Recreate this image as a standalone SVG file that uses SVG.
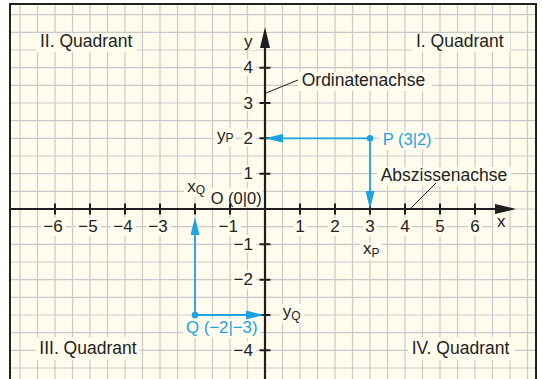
<svg xmlns="http://www.w3.org/2000/svg" width="543" height="379" viewBox="0 0 543 379">
<style>
.t{font-family:"Liberation Sans",Arial,Helvetica,sans-serif;fill:#222}
.q{font-size:17.5px}
.n{font-size:17px}
.sub{font-size:12px}
.b{fill:#1ba3e3}
.bg{fill:#fffcee}
.grid{stroke:#c9c9c9;stroke-width:1.2;fill:none}
.axis{stroke:#1e1e1e;stroke-width:2.2;fill:none}
.tick{stroke:#1e1e1e;stroke-width:2;fill:none}
.lead{stroke:#1e1e1e;stroke-width:1;fill:none}
.bl{stroke:#1ba3e3;stroke-width:1.8;fill:none}
</style>
<defs>
<marker id="ah" markerUnits="userSpaceOnUse" viewBox="0 0 21 10" markerWidth="21" markerHeight="10" refX="5" refY="5" orient="auto"><path d="M0,0L21,5L0,10z" fill="#1e1e1e"/></marker>
<marker id="bh" markerUnits="userSpaceOnUse" viewBox="0 0 18 9" markerWidth="18" markerHeight="9" refX="8" refY="4.5" orient="auto"><path d="M0,0L18,4.5L0,9z" fill="#1ba3e3"/></marker>
</defs>
<rect x="10" y="4" width="526" height="390" fill="#fffcee" stroke="#222" stroke-width="2"/>
<g id="grid">
<path class="grid" d="M20 5V379M37.5 5V379M55 5V379M72.5 5V379M90 5V379M107.5 5V379M125 5V379M142.5 5V379M160 5V379M177.5 5V379M195 5V379M212.5 5V379M230 5V379M247.5 5V379M265 5V379M282.5 5V379M300 5V379M317.5 5V379M335 5V379M352.5 5V379M370 5V379M387.5 5V379M405 5V379M422.5 5V379M440 5V379M457.5 5V379M475 5V379M492.5 5V379M510 5V379M527.5 5V379"/>
<path class="grid" d="M11 14.67H535M11 32.33H535M11 50H535M11 67.67H535M11 85.33H535M11 103H535M11 120.67H535M11 138.33H535M11 156H535M11 173.67H535M11 191.33H535M11 209H535M11 226.67H535M11 244.33H535M11 262H535M11 279.67H535M11 297.33H535M11 315H535M11 332.67H535M11 350.33H535M11 368H535"/>
</g>
<g id="label-backgrounds" class="bg">
<rect x="36" y="33" width="101" height="19"/>
<rect x="412" y="33" width="98" height="19"/>
<rect x="36" y="337" width="103" height="23"/>
<rect x="408" y="337" width="107" height="23"/>
<rect x="298" y="72" width="134" height="19"/>
<rect x="377" y="167" width="134" height="19"/>
<rect x="379" y="131" width="55" height="19"/>
<rect x="183" y="319" width="77" height="19"/>
<rect x="208" y="188" width="55" height="19"/>
<rect x="494" y="215" width="15" height="16"/>
<rect x="241" y="34" width="15" height="16"/>
<rect x="360" y="242" width="22" height="18"/>
<rect x="214" y="128" width="22" height="18"/>
<rect x="184" y="179" width="24" height="18"/>
<rect x="280" y="304" width="24" height="19"/>
<rect x="41" y="218" width="25" height="18"/>
<rect x="76" y="218" width="25" height="18"/>
<rect x="111" y="218" width="25" height="18"/>
<rect x="146" y="218" width="25" height="18"/>
<rect x="216" y="218" width="25" height="18"/>
<rect x="293" y="218" width="14" height="18"/>
<rect x="328" y="218" width="14" height="18"/>
<rect x="363" y="218" width="14" height="18"/>
<rect x="398" y="218" width="14" height="18"/>
<rect x="433" y="218" width="14" height="18"/>
<rect x="468" y="218" width="14" height="18"/>
<rect x="242" y="59" width="14" height="17"/>
<rect x="242" y="94" width="14" height="17"/>
<rect x="242" y="129" width="14" height="17"/>
<rect x="242" y="165" width="14" height="17"/>
<rect x="232" y="235" width="24" height="18"/>
<rect x="232" y="271" width="24" height="18"/>
<rect x="232" y="341" width="24" height="18"/>
</g>
<g id="connectors">
<path class="axis" d="M11 209H500" marker-end="url(#ah)"/>
<path class="axis" d="M265 379V43" marker-end="url(#ah)"/>
<path class="tick" d="M55 203.5V214.5M90 203.5V214.5M125 203.5V214.5M160 203.5V214.5M195 203.5V214.5M230 203.5V214.5M300 203.5V214.5M335 203.5V214.5M370 203.5V214.5M405 203.5V214.5M440 203.5V214.5M475 203.5V214.5"/>
<path class="tick" d="M259.5 67.67H270.5M259.5 103H270.5M259.5 138.33H270.5M259.5 173.67H270.5M259.5 244.33H270.5M259.5 279.67H270.5M259.5 315H270.5M259.5 350.33H270.5"/>
<path class="lead" d="M266 93L298 80"/>
<path class="lead" d="M410 209L436 183"/>
<path class="bl" d="M370 138.33H275" marker-end="url(#bh)"/>
<path class="bl" d="M370 138.33V199" marker-end="url(#bh)"/>
<path class="bl" d="M195 315V227" marker-end="url(#bh)"/>
<path class="bl" d="M195 315H254" marker-end="url(#bh)"/>
</g>
<g id="point-P">
<circle cx="370" cy="138.33" r="3.3" class="b"/>
<text class="t q b" x="382.7" y="145" style="font-size:16.5px">P (3|2)</text>
</g>
<g id="point-Q">
<circle cx="195" cy="315" r="3.3" class="b"/>
<text class="t q b" x="186" y="333.3" style="font-size:16.8px">Q (−2|−3)</text>
</g>
<g id="quadrant-labels" class="t q">
<text x="40" y="47">II. Quadrant</text>
<text x="416" y="47">I. Quadrant</text>
<text x="39.3" y="354.3">III. Quadrant</text>
<text x="411.7" y="354.3">IV. Quadrant</text>
</g>
<g id="axis-names" class="t q">
<text x="301.7" y="86">Ordinatenachse</text>
<text x="380.7" y="181">Abszissenachse</text>
<text x="210.7" y="204" style="font-size:16.5px">O (0|0)</text>
<text x="497" y="227" class="n">x</text>
<text x="244" y="46.7" class="n">y</text>
</g>
<g id="coordinate-labels" class="t n">
<text x="363" y="254">x<tspan class="sub" dy="3">P</tspan></text>
<text x="217" y="140.5">y<tspan class="sub" dy="1.5">P</tspan></text>
<text x="187.3" y="191.7">x<tspan class="sub" dy="2.5">Q</tspan></text>
<text x="282.7" y="316.7">y<tspan class="sub" dy="3">Q</tspan></text>
</g>
<g id="x-tick-labels" class="t n">
<text x="43.3" y="232">−6</text>
<text x="78.3" y="232">−5</text>
<text x="113.3" y="232">−4</text>
<text x="148.3" y="232">−3</text>
<text x="218.5" y="232">−1</text>
<g text-anchor="middle">
<text x="300" y="232">1</text>
<text x="335" y="232">2</text>
<text x="370" y="232">3</text>
<text x="405" y="232">4</text>
<text x="440" y="232">5</text>
<text x="475" y="232">6</text>
</g>
</g>
<g id="y-tick-labels" class="t n" text-anchor="end">
<text x="253" y="73.2">4</text>
<text x="253" y="108.5">3</text>
<text x="253" y="143.8">2</text>
<text x="253" y="179.2">1</text>
<text x="253" y="249.8">−1</text>
<text x="253" y="285.2">−2</text>
<text x="253" y="355.8">−4</text>
</g>
</svg>
